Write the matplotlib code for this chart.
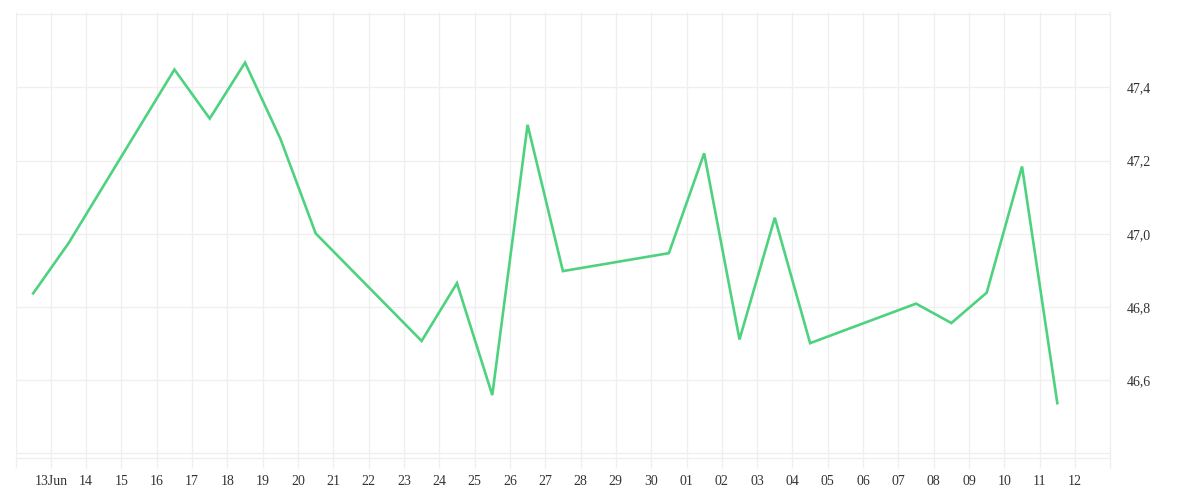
import matplotlib
matplotlib.use("Agg")
import matplotlib.pyplot as plt
import matplotlib.dates as mdates
from matplotlib.ticker import FuncFormatter, FixedLocator
from datetime import datetime, timedelta

# Données (points à midi)
dates = ["2023-06-12", "2023-06-13", "2023-06-16", "2023-06-17", "2023-06-18",
         "2023-06-19", "2023-06-20", "2023-06-23", "2023-06-24", "2023-06-25",
         "2023-06-26", "2023-06-27", "2023-06-30", "2023-07-01", "2023-07-02",
         "2023-07-03", "2023-07-04", "2023-07-07", "2023-07-08", "2023-07-09",
         "2023-07-10", "2023-07-11"]
values = [46.837, 46.974, 47.449, 47.315, 47.468,
          47.260, 47.001, 46.707, 46.865, 46.559,
          47.298, 46.898, 46.947, 47.220, 46.711,
          47.044, 46.701, 46.809, 46.756, 46.839,
          47.184, 46.537]
y_grid = [46.4, 46.6, 46.8, 47.0, 47.2, 47.4, 47.6]
y_labels = ["", "46,6", "46,8", "47,0", "47,2", "47,4", ""]
x_start = "2023-06-12"
x_end = "2023-07-13"

line_color = "#4ed27f"
grid_color = "#efefef"
text_color = "#333333"

x = [datetime.strptime(d, "%Y-%m-%d") + timedelta(hours=12) for d in dates]
d0 = datetime.strptime(x_start, "%Y-%m-%d")
d1 = datetime.strptime(x_end, "%Y-%m-%d")

fig = plt.figure(figsize=(12, 5), dpi=100)
ax = fig.add_axes([15.5 / 1200, 1 - 458.3 / 500, (1110.3 - 15.5) / 1200, (458.3 - 12.3) / 500])

ax.plot(x, values, color=line_color, linewidth=1.9, solid_joinstyle="miter", zorder=3)

ax.set_xlim(d0, d1)
ax.set_ylim(46.3862, 47.6055)

# axe des x : une graduation par jour
days = [d0 + timedelta(days=i) for i in range((d1 - d0).days + 1)]
ax.xaxis.set_major_locator(FixedLocator(mdates.date2num(days)))

def fmt_x(v, pos):
    d = mdates.num2date(v).replace(tzinfo=None)
    if d <= d0 or d >= d1:
        return ""
    if d.day == 13 and d.month == 6:
        return "13Jun"
    return d.strftime("%d")

ax.xaxis.set_major_formatter(FuncFormatter(fmt_x))
ax.set_yticks(y_grid)
ax.set_yticklabels(y_labels)

ax.yaxis.tick_right()
ax.grid(True, color=grid_color, linewidth=0.9)
ax.tick_params(axis="x", length=7.2, width=0.9, color=grid_color, pad=5,
               labelsize=10, labelcolor=text_color)
ax.tick_params(axis="y", length=0, pad=12, labelsize=10, labelcolor=text_color)
for lab in ax.get_xticklabels() + ax.get_yticklabels():
    lab.set_fontfamily(["Liberation Serif", "DejaVu Serif"])

for side in ["top", "left"]:
    ax.spines[side].set_visible(False)
for side in ["bottom", "right"]:
    ax.spines[side].set_color(grid_color)
    ax.spines[side].set_linewidth(0.9)

fig.savefig("out.png", dpi=100)
